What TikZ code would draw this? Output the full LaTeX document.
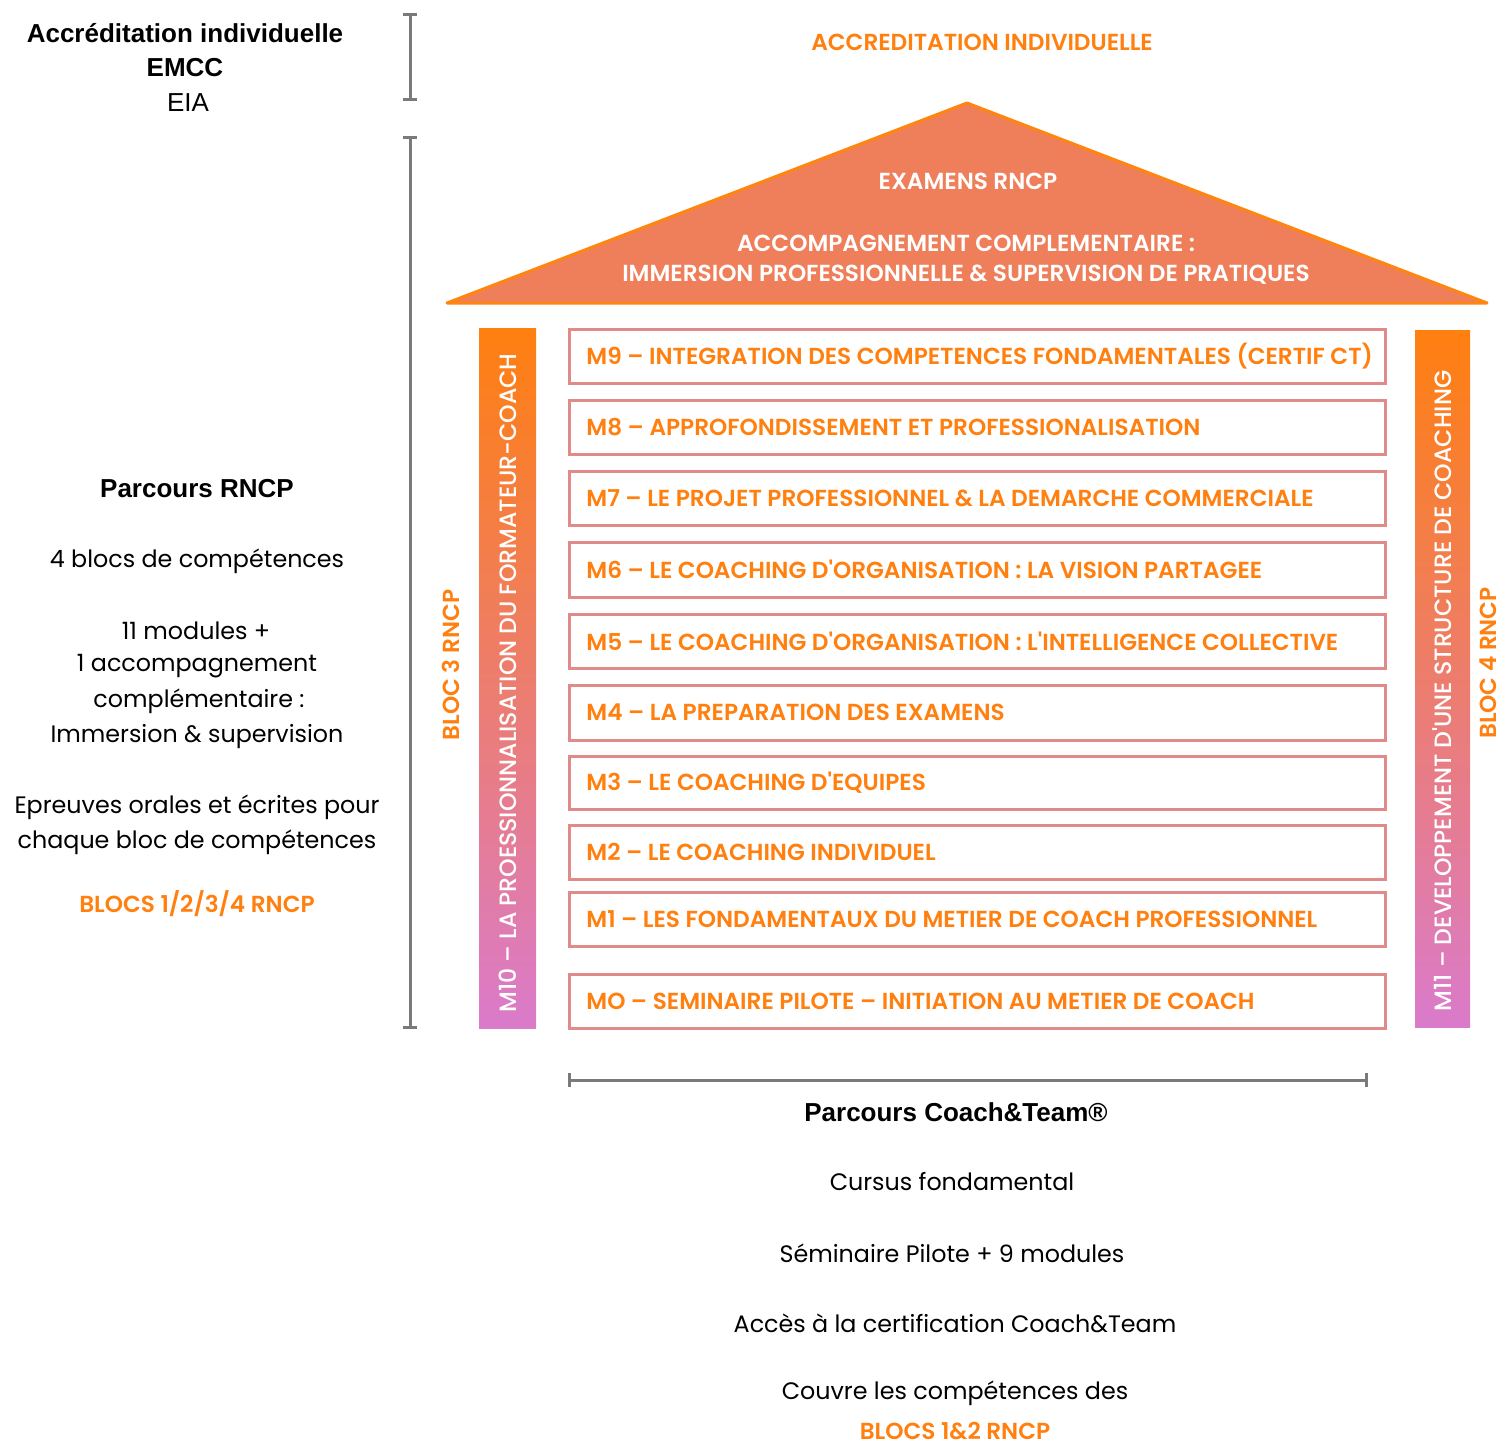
\documentclass[tikz,border=0pt]{standalone}
\usepackage{fontspec}
\setmainfont{Poppins}[Ligatures=TeXOff]
\newfontfamily\popmed{Poppins Medium}[Ligatures=TeXOff]
\newfontfamily\popsemi{Poppins SemiBold}[Ligatures=TeXOff]
\newfontfamily\arialf{Liberation Sans}
\usetikzlibrary{calc}
\definecolor{ora}{HTML}{FF7F0F}
\definecolor{roof}{HTML}{EF7F5A}
\definecolor{roofline}{HTML}{FF8511}
\definecolor{boxline}{HTML}{E08A8A}
\definecolor{barg}{HTML}{7A7A7A}
\definecolor{pink}{HTML}{DA7BCB}
\begin{document}
\begin{tikzpicture}[x=0.5pt,y=-0.5pt,
  modbox/.style={draw=boxline,line width=1.5pt,fill=white},
  modtext/.style={anchor=west,text=ora,font=\popsemi\fontsize{11.6}{13}\selectfont,inner sep=0pt},
  bar/.style={draw=barg,line width=1.5pt},
  title/.style={font=\arialf\fontsize{13}{15}\selectfont\bfseries,inner sep=0pt},
  body/.style={font=\fontsize{11.9}{14}\selectfont,inner sep=0pt},
  oratext/.style={text=ora,font=\popsemi\fontsize{11.6}{13}\selectfont,inner sep=0pt},
  whitetext/.style={text=white,font=\popsemi\fontsize{11.6}{13}\selectfont,inner sep=0pt},
  pillartext/.style={text=white,font=\popmed\fontsize{11.8}{13}\selectfont,inner sep=0pt,rotate=90}]
\useasboundingbox (0,0) rectangle (1505,1445);
% left texts
\node[title] (t1) at (185,33) {Accréditation individuelle};
\node[title] (t2) at (185,68) {EMCC};
\node[inner sep=0pt,font=\arialf\fontsize{13}{15}\selectfont] (t3) at (188,103) {EIA};
\node[title] (p1) at (197,489) {Parcours RNCP};
\node[body] (p2) at (197,561) {4 blocs de compétences};
\node[body] (p3) at (196,631) {11 modules +};
\node[body] (p4) at (197,666) {1 accompagnement};
\node[body] (p5) at (199,701) {complémentaire :};
\node[body] (p6) at (197,737) {Immersion \& supervision};
\node[body] (p7) at (197,807) {Epreuves orales et écrites pour};
\node[body] (p8) at (197,842) {chaque bloc de compétences};
\node[oratext] (p9) at (197,904) {BLOCS 1/2/3/4 RNCP};
% vertical bars
\coordinate (b1a) at (410,15); \coordinate (b1b) at (410,100);
\draw[bar] (b1a) -- (b1b);
\draw[bar] ($(b1a)+(-7,0)$) -- ($(b1a)+(7,0)$);
\draw[bar] ($(b1b)+(-7,0)$) -- ($(b1b)+(7,0)$);
\coordinate (b2a) at (410,138); \coordinate (b2b) at (410,1027);
\draw[bar] (b2a) -- (b2b);
\draw[bar] ($(b2a)+(-7,0)$) -- ($(b2a)+(7,0)$);
\draw[bar] ($(b2b)+(-7,0)$) -- ($(b2b)+(7,0)$);
% top
\node[oratext] (acc) at (982,42) {ACCREDITATION INDIVIDUELLE};
\draw[fill=roof,draw=roofline,line width=1.5pt,line join=round] (967,103) -- (1487,303) -- (447,303) -- cycle;
\node[whitetext] (ex) at (968,181) {EXAMENS RNCP};
\node[whitetext] (ac1) at (966,243) {ACCOMPAGNEMENT COMPLEMENTAIRE :};
\node[whitetext] (ac2) at (966,275) {IMMERSION PROFESSIONNELLE \& SUPERVISION DE PRATIQUES};
% pillars
\shade[top color=ora,bottom color=pink] (479,328) rectangle (536,1028);
\node[pillartext] (m10) at (508,683) {M10 – LA PROESSIONNALISATION DU FORMATEUR-COACH};
\shade[top color=ora,bottom color=pink] (1415,330) rectangle (1470,1027);
\node[pillartext] (m11) at (1442,691) {M11 – DEVELOPPEMENT D'UNE STRUCTURE DE COACHING};
\node[oratext,rotate=90] (bl3) at (451,665) {BLOC 3 RNCP};
\node[oratext,rotate=90] (bl4) at (1488,663) {BLOC 4 RNCP};
% modules
\foreach \n/\ya/\yb/\txt in {
 9/329/383/{M9 – INTEGRATION DES COMPETENCES FONDAMENTALES (CERTIF CT)},
 8/400/454/{M8 – APPROFONDISSEMENT ET PROFESSIONALISATION},
 7/471/525/{M7 – LE PROJET PROFESSIONNEL \& LA DEMARCHE COMMERCIALE},
 6/542/597/{M6 – LE COACHING D'ORGANISATION : LA VISION PARTAGEE},
 5/614/668/{M5 – LE COACHING D'ORGANISATION : L'INTELLIGENCE COLLECTIVE},
 4/685/740/{M4 – LA PREPARATION DES EXAMENS},
 3/756/809/{M3 – LE COACHING D'EQUIPES},
 2/825/879/{M2 – LE COACHING INDIVIDUEL},
 1/892/946/{M1 – LES FONDAMENTAUX DU METIER DE COACH PROFESSIONNEL},
 0/974/1028/{MO – SEMINAIRE PILOTE – INITIATION AU METIER DE COACH}}{
 \draw[modbox] (569,\ya) rectangle (1385,\yb);
 \node[modtext] (mod\n) at (586,{(\ya+\yb)/2}) {\txt};
}
% bottom
\coordinate (h1) at (569,1080); \coordinate (h2) at (1366,1080);
\draw[bar] (h1) -- (h2);
\draw[bar] ($(h1)+(0,-7)$) -- ($(h1)+(0,7)$);
\draw[bar] ($(h2)+(0,-7)$) -- ($(h2)+(0,7)$);
\node[title] (c1) at (956,1112) {Parcours Coach\&Team®};
\node[body] (c2) at (952,1182) {Cursus fondamental};
\node[body] (c3) at (952,1253) {Séminaire Pilote + 9 modules};
\node[body] (c4) at (955,1323) {Accès à la certification Coach\&Team};
\node[body] (c5) at (955,1393) {Couvre les compétences des};
\node[oratext] (c6) at (955,1431) {BLOCS 1\&2 RNCP};
\end{tikzpicture}
\end{document}
